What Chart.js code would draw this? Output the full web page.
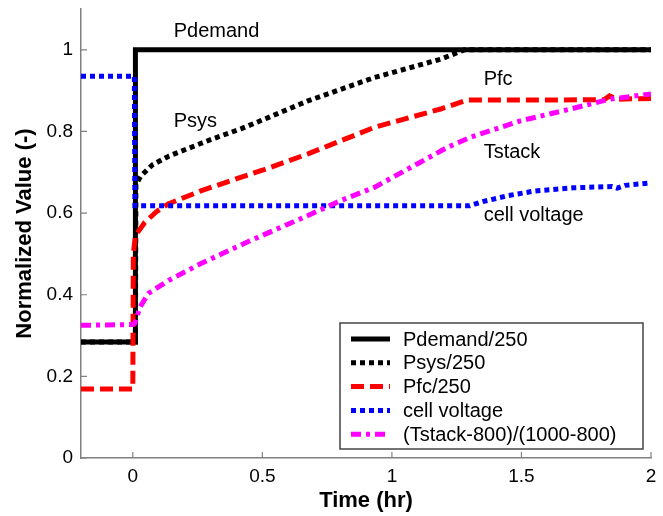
<!DOCTYPE html>
<html><head><meta charset="utf-8">
<script src="https://cdn.jsdelivr.net/npm/chart.js@4/dist/chart.umd.min.js"></script>
<style>html,body{margin:0;padding:0;background:#fff;}canvas{display:block;}</style>
</head><body>
<canvas id="c" width="663" height="516"></canvas>
<script>
// ---- data ----
const xTicks = [0, 0.5, 1, 1.5, 2];
const yTicks = [0, 0.2, 0.4, 0.6, 0.8, 1];
const seriesNames = ['Pdemand/250', 'Psys/250', 'Pfc/250', 'cell voltage', '(Tstack-800)/(1000-800)'];

const tPdemand = [-0.2, 0.01, 0.01, 2];
const vPdemand = [0.284, 0.284, 1.0, 1.0];

const tPsys = [-0.2, 0.01, 0.012, 0.03, 0.075, 0.14, 0.3, 0.419, 0.5, 0.676, 0.932, 1.188, 1.28, 2];
const vPsys = [0.284, 0.284, 0.67, 0.69, 0.718, 0.74, 0.78, 0.807, 0.828, 0.875, 0.932, 0.977, 1.0, 1.0];

const tPfc = [-0.2, 0.0, 0.002, 0.01, 0.046, 0.09, 0.138, 0.265, 0.419, 0.5, 0.676, 0.932, 1.188, 1.29, 1.6, 1.82, 1.84, 1.87, 2];
const vPfc = [0.169, 0.169, 0.50, 0.545, 0.577, 0.603, 0.623, 0.655, 0.688, 0.705, 0.745, 0.81, 0.855, 0.877, 0.877, 0.878, 0.887, 0.879, 0.881];

const tCell = [-0.2, 0.006, 0.008, 1.30, 1.35, 1.45, 1.55, 1.7, 1.85, 1.87, 1.9, 2];
const vCell = [0.935, 0.935, 0.618, 0.618, 0.628, 0.643, 0.654, 0.662, 0.665, 0.661, 0.668, 0.674];

const tTstack = [-0.2, 0.0, 0.008, 0.027, 0.06, 0.138, 0.265, 0.452, 0.676, 0.804, 0.932, 1.099, 1.214, 1.30, 1.342, 1.496, 1.69, 1.84, 2];
const vTstack = [0.325, 0.327, 0.33, 0.369, 0.403, 0.435, 0.477, 0.532, 0.594, 0.631, 0.663, 0.721, 0.761, 0.785, 0.794, 0.826, 0.855, 0.879, 0.892];

const annotationLabels = ['Pdemand', 'Psys', 'Pfc', 'Tstack', 'cell voltage'];
const annotationT = [0.158, 0.158, 1.354, 1.354, 1.354];
const annotationV = [1.046, 0.824, 0.927, 0.748, 0.594];

// ---- styles ----
const FONT = '"Liberation Sans", Arial, Helvetica, sans-serif';
const zip = (t, v) => t.map((x, i) => ({x: x, y: v[i]}));
const styles = [
  {color: '#000000', dash: [], width: 5},
  {color: '#000000', dash: [5, 4], width: 5},
  {color: '#ff0000', dash: [13, 6], width: 5},
  {color: '#0000ff', dash: [5, 4], width: 5},
  {color: '#ff00ff', dash: [10, 5, 4, 5], width: 5}
];
const seriesData = [zip(tPdemand, vPdemand), zip(tPsys, vPsys), zip(tPfc, vPfc), zip(tCell, vCell), zip(tTstack, vTstack)];

const datasets = seriesData.map((d, i) => ({
  label: seriesNames[i],
  data: d,
  borderColor: styles[i].color,
  backgroundColor: styles[i].color,
  borderWidth: styles[i].width,
  borderDash: styles[i].dash,
  pointRadius: 0,
  tension: 0,
  fill: false,
  order: 5 - i
}));

const innerTicks = {
  id: 'innerTicks',
  afterDraw(chart) {
    const {ctx, chartArea: a, scales: {x, y}} = chart;
    ctx.save();
    ctx.strokeStyle = '#808080';
    ctx.lineWidth = 1.2;
    ctx.beginPath();
    xTicks.forEach(v => { const px = x.getPixelForValue(v); ctx.moveTo(px, a.bottom); ctx.lineTo(px, a.bottom - 6); });
    yTicks.forEach(v => { const py = y.getPixelForValue(v); ctx.moveTo(a.left, py); ctx.lineTo(a.left + 6, py); });
    ctx.stroke();
    ctx.restore();
  }
};

const annotations = {
  id: 'annotations',
  afterDatasetsDraw(chart) {
    const {ctx, scales: {x, y}} = chart;
    ctx.save();
    ctx.fillStyle = '#000';
    ctx.font = '20px ' + FONT;
    ctx.textAlign = 'left';
    ctx.textBaseline = 'middle';
    annotationLabels.forEach((s, i) => ctx.fillText(s, x.getPixelForValue(annotationT[i]), y.getPixelForValue(annotationV[i])));
    ctx.restore();
  }
};

const boxLegend = {
  id: 'boxLegend',
  afterDraw(chart) {
    const {ctx, chartArea: a} = chart;
    const w = 303, h = 126;
    const right = a.right - 8, bottom = a.bottom - 9;
    const left = right - w, top = bottom - h;
    ctx.save();
    ctx.fillStyle = '#fff';
    ctx.fillRect(left, top, w, h);
    ctx.strokeStyle = '#444';
    ctx.lineWidth = 1.5;
    ctx.strokeRect(left, top, w, h);
    ctx.font = '20px ' + FONT;
    ctx.textBaseline = 'middle';
    ctx.textAlign = 'left';
    chart.data.datasets.forEach((ds, i) => {
      const cy = top + 16 + i * 23.8;
      ctx.beginPath();
      ctx.strokeStyle = ds.borderColor;
      ctx.lineWidth = ds.borderWidth;
      ctx.setLineDash(ds.borderDash);
      ctx.moveTo(left + 11, cy);
      ctx.lineTo(left + 50, cy);
      ctx.stroke();
      ctx.setLineDash([]);
      ctx.fillStyle = '#000';
      ctx.fillText(ds.label, left + 63, cy + 1);
    });
    ctx.restore();
  }
};

new Chart(document.getElementById('c'), {
  type: 'line',
  data: {datasets: datasets},
  plugins: [innerTicks, annotations, boxLegend],
  options: {
    responsive: false,
    animation: false,
    layout: {padding: {left: 0, right: 12, top: 9, bottom: 0}},
    plugins: {legend: {display: false}, tooltip: {enabled: false}},
    scales: {
      x: {
        type: 'linear', min: -0.2, max: 2,
        afterBuildTicks: s => { s.ticks = xTicks.map(v => ({value: v})); },
        afterFit: s => { s.height = 58; s.paddingLeft = 0; s.paddingRight = 0; },
        grid: {display: true, drawOnChartArea: false, drawTicks: false},
        border: {display: true, color: '#808080', width: 1.5},
        ticks: {color: '#000', padding: 7, font: {family: FONT, size: 19}, maxRotation: 0,
                callback: v => String(v)},
        title: {display: true, text: 'Time (hr)', color: '#000', padding: {top: 0, bottom: 2},
                font: {family: FONT, size: 22, weight: 'bold'}}
      },
      y: {
        type: 'linear', min: 0, max: 1.1,
        afterBuildTicks: s => { s.ticks = yTicks.map(v => ({value: v})); },
        afterFit: s => { s.width = 81; s.paddingTop = 0; s.paddingBottom = 0; },
        grid: {display: true, drawOnChartArea: false, drawTicks: false},
        border: {display: true, color: '#808080', width: 1.5},
        ticks: {color: '#000', padding: 8, font: {family: FONT, size: 19},
                callback: v => String(v)},
        title: {display: true, text: 'Normalized Value (-)', color: '#000', padding: {top: 12, bottom: 0},
                font: {family: FONT, size: 22, weight: 'bold'}}
      }
    }
  }
});
</script>
</body></html>
